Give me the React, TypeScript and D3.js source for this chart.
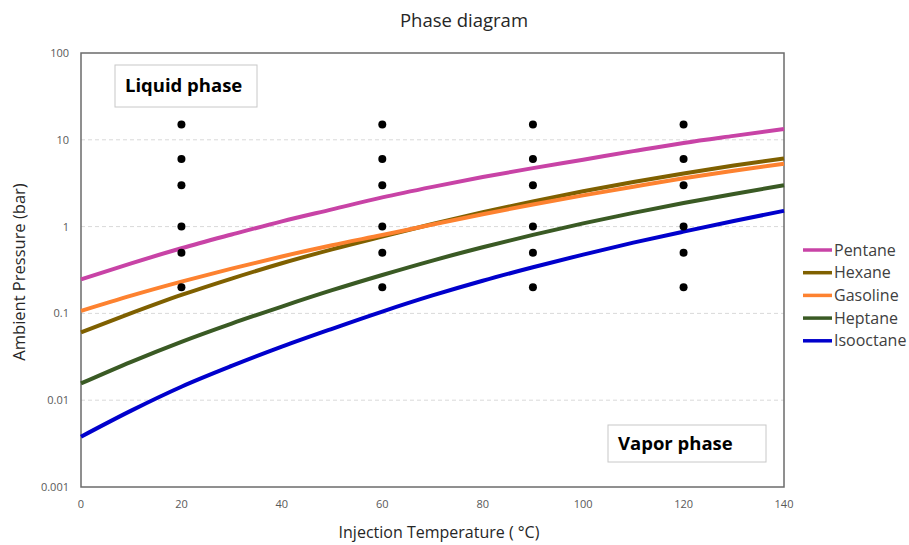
import React, { useEffect, useRef } from 'react';
import * as d3 from 'd3';

const temps = [0, 10, 20, 30, 40, 50, 60, 70, 80, 90, 100, 110, 120, 130, 140];

const pentane = [0.247, 0.377, 0.563, 0.81, 1.15, 1.58, 2.17, 2.87, 3.72, 4.72, 5.9, 7.4, 9.2, 11.1, 13.3];
const hexane = [0.0605, 0.1005, 0.163, 0.252, 0.378, 0.547, 0.769, 1.072, 1.462, 1.95, 2.55, 3.27, 4.1, 5.05, 6.1];
const gasoline = [0.1067, 0.16, 0.232, 0.328, 0.453, 0.61, 0.8, 1.057, 1.387, 1.8, 2.29, 2.88, 3.6, 4.39, 5.3];
const heptane = [0.0156, 0.0277, 0.0471, 0.0764, 0.12, 0.185, 0.277, 0.406, 0.578, 0.804, 1.09, 1.44, 1.87, 2.38, 2.99];
const isooctane = [0.0038, 0.00759, 0.0143, 0.0248, 0.0414, 0.0665, 0.105, 0.161, 0.238, 0.34, 0.476, 0.653, 0.875, 1.16, 1.52];

const seriesNames = ['Pentane', 'Hexane', 'Gasoline', 'Heptane', 'Isooctane'];
const seriesColors = ['#c843a6', '#7f6000', '#fd8230', '#3a5a24', '#0000cc'];

// measurement points (injection temperature x ambient pressure)
const pointTemps = [20, 60, 90, 120];
const pointPressures = [15, 6, 3, 1, 0.5, 0.2];

const xTicks = [0, 20, 40, 60, 80, 100, 120, 140];
const yTicks = [0.001, 0.01, 0.1, 1, 10, 100];
const yTickLabels = ['0.001', '0.01', '0.1', '1', '10', '100'];

const font = 'Open Sans, Lato, sans-serif';

function App() {
  const ref = useRef<SVGSVGElement>(null);

  useEffect(() => {
    const svg = d3.select(ref.current);
    svg.selectAll('*').remove();

    const left = 81, right = 784, top = 53, bottom = 487;
    const x = d3.scaleLinear().domain([0, 140]).range([left, right]);
    const y = d3.scaleLog().domain([0.001, 100]).range([bottom, top]);

    svg.append('rect').attr('width', 909).attr('height', 545).attr('fill', '#fff');

    // grid
    svg.selectAll('.grid')
      .data(yTicks.slice(1, -1))
      .enter()
      .append('line')
      .attr('x1', left).attr('x2', right)
      .attr('y1', d => y(d)).attr('y2', d => y(d))
      .attr('stroke', '#d9d9d9')
      .attr('stroke-dasharray', '4,3')
      .attr('stroke-width', 1);

    // frame
    svg.append('rect')
      .attr('x', left).attr('y', top)
      .attr('width', right - left).attr('height', bottom - top)
      .attr('fill', 'none')
      .attr('stroke', '#6b6b6b')
      .attr('stroke-width', 1.5);

    // tick labels
    svg.selectAll('.ylab')
      .data(yTicks)
      .enter()
      .append('text')
      .attr('x', left - 12)
      .attr('y', d => y(d) + 4)
      .attr('text-anchor', 'end')
      .attr('font-family', font)
      .attr('font-size', 11)
      .attr('fill', '#595959')
      .text((d, i) => yTickLabels[i]);

    svg.selectAll('.xlab')
      .data(xTicks)
      .enter()
      .append('text')
      .attr('x', d => x(d))
      .attr('y', 508)
      .attr('text-anchor', 'middle')
      .attr('font-family', font)
      .attr('font-size', 11)
      .attr('fill', '#595959')
      .text(d => String(d));

    // curves
    const all = [pentane, hexane, gasoline, heptane, isooctane];
    const line = d3.line<number>()
      .x((d, i) => x(temps[i]))
      .y(d => y(d))
      .curve(d3.curveMonotoneX);

    all.forEach((vals, k) => {
      svg.append('path')
        .attr('d', line(vals))
        .attr('fill', 'none')
        .attr('stroke', seriesColors[k])
        .attr('stroke-width', 4);
    });

    // dots
    const pts = pointTemps.flatMap(t => pointPressures.map(p => ({ t, p })));
    svg.selectAll('.dot')
      .data(pts)
      .enter()
      .append('circle')
      .attr('cx', d => x(d.t))
      .attr('cy', d => y(d.p))
      .attr('r', 4)
      .attr('fill', '#000');

    // phase labels
    const boxes = [
      { label: 'Liquid phase', x: 115, y: 65, w: 142, h: 42 },
      { label: 'Vapor phase', x: 608, y: 425, w: 158, h: 37 },
    ];
    boxes.forEach(b => {
      svg.append('rect')
        .attr('x', b.x).attr('y', b.y)
        .attr('width', b.w).attr('height', b.h)
        .attr('fill', '#fff')
        .attr('stroke', '#c8c8c8')
        .attr('stroke-width', 1);
      svg.append('text')
        .attr('x', b.x + 10)
        .attr('y', b.y + b.h / 2 + 6)
        .attr('font-family', font)
        .attr('font-size', 18.5)
        .attr('font-weight', 'bold')
        .attr('fill', '#000')
        .text(b.label);
    });

    // legend
    seriesNames.forEach((name, k) => {
      const ly = 250 + k * 22.7;
      svg.append('line')
        .attr('x1', 803).attr('x2', 832)
        .attr('y1', ly).attr('y2', ly)
        .attr('stroke', seriesColors[k])
        .attr('stroke-width', 3.5);
      svg.append('text')
        .attr('x', 834)
        .attr('y', ly + 5.5)
        .attr('font-family', font)
        .attr('font-size', 16)
        .attr('fill', '#404040')
        .text(name);
    });

    // titles
    svg.append('text')
      .attr('x', 464).attr('y', 27)
      .attr('text-anchor', 'middle')
      .attr('font-family', font)
      .attr('font-size', 18.5)
      .attr('fill', '#262626')
      .text('Phase diagram');

    svg.append('text')
      .attr('x', 439).attr('y', 538)
      .attr('text-anchor', 'middle')
      .attr('font-family', font)
      .attr('font-size', 16)
      .attr('fill', '#262626')
      .text('Injection Temperature ( °C)');

    svg.append('text')
      .attr('transform', 'translate(25,272) rotate(-90)')
      .attr('text-anchor', 'middle')
      .attr('font-family', font)
      .attr('font-size', 16.5)
      .attr('fill', '#262626')
      .text('Ambient Pressure (bar)');
  }, []);

  return <svg ref={ref} width={909} height={545} style={{ position: 'absolute', left: 0, top: 0 }}></svg>;
}

export default App;
